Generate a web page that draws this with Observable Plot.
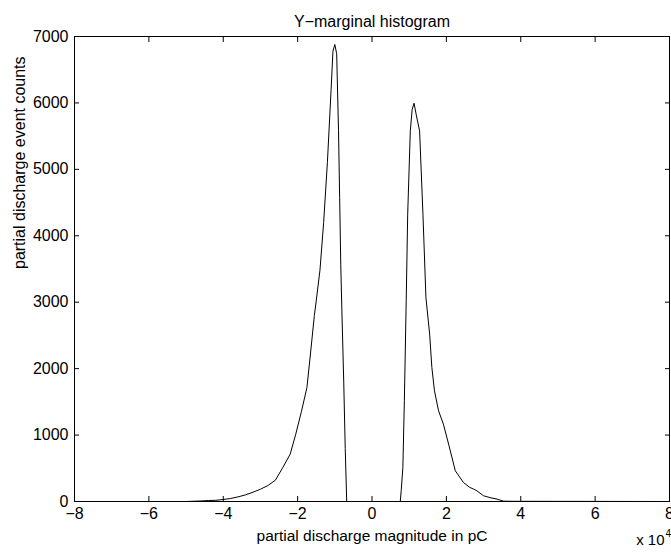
<!DOCTYPE html>
<html>
<head>
<meta charset="utf-8">
<script src="https://cdn.jsdelivr.net/npm/d3@7"></script>
<script src="https://cdn.jsdelivr.net/npm/@observablehq/plot@0.6"></script>
<style>
  body { margin: 0; background: white; }
</style>
</head>
<body>
<div id="chart"></div>
<script>
// magnitude in units of 10^4 pC
const magnitude = [-8, -5, -4.6, -4.4, -4.2, -4.0, -3.8, -3.6, -3.4, -3.2, -3.0, -2.8, -2.6, -2.4, -2.2, -2.05, -1.9, -1.75, -1.65, -1.55, -1.5, -1.4, -1.3, -1.2, -1.1, -1.05, -1.0, -0.95, -0.9, -0.87, -0.84, -0.81, -0.76, -0.72, -0.68,
  0.76, 0.785, 0.83, 0.87, 0.92, 0.96, 1.03, 1.08, 1.13, 1.19, 1.28, 1.37, 1.45, 1.55, 1.61, 1.68, 1.79, 1.92, 2.06, 2.24, 2.46, 2.62, 2.73, 2.82, 3.0, 3.2, 3.36, 3.54, 3.8, 8];
const counts = [0, 0, 8, 15, 18, 30, 45, 70, 100, 140, 185, 240, 320, 510, 713, 1014, 1350, 1716, 2250, 2800, 3020, 3480, 4200, 5100, 6200, 6780, 6880, 6740, 5580, 4575, 3573, 2870, 1800, 800, 0,
  0, 161, 512, 1516, 3020, 4325, 5579, 5900, 5996, 5820, 5579, 4325, 3070, 2519, 2017, 1666, 1365, 1165, 864, 462, 286, 215, 187, 161, 86, 55, 36, 5, 3, 0];
const xTicks = [-8, -6, -4, -2, 0, 2, 4, 6, 8];
const yTicks = [0, 1000, 2000, 3000, 4000, 5000, 6000, 7000];
const title = "Y\u2212marginal histogram";
const xLabel = "partial discharge magnitude in pC";
const yLabel = "partial discharge event counts";
const xExponent = "4";

const data = magnitude.map((m, i) => ({m, c: counts[i]}));
const blank = () => "";

const chart = Plot.plot({
  width: 671,
  height: 553,
  marginLeft: 74,
  marginRight: 2,
  marginTop: 36,
  marginBottom: 52,
  style: {fontFamily: "'Liberation Sans', Arial, Helvetica, sans-serif", fontSize: "16px", color: "black", background: "white"},
  x: {domain: [-8, 8]},
  y: {domain: [0, 7000]},
  marks: [
    Plot.axisX(xTicks, {anchor: "bottom", tickSize: 0, tickPadding: 6, tickFormat: d => d < 0 ? "\u2212" + Math.abs(d) : String(d), fontSize: 16, label: null}),
    Plot.axisX(xTicks, {anchor: "bottom", tickSize: 5, dy: -5, tickFormat: blank, label: null}),
    Plot.axisX(xTicks, {anchor: "top", tickSize: 5, dy: 5, tickFormat: blank, label: null}),
    Plot.axisY(yTicks, {anchor: "left", tickSize: 0, tickPadding: 6, fontSize: 16, label: null, tickFormat: d => String(d)}),
    Plot.axisY(yTicks, {anchor: "left", tickSize: 5, dx: 5, tickFormat: blank, label: null}),
    Plot.axisY(yTicks, {anchor: "right", tickSize: 5, dx: -5, tickFormat: blank, label: null}),
    Plot.line(data, {x: "m", y: "c", stroke: "black", strokeWidth: 1}),
    Plot.frame({stroke: "black", strokeWidth: 1}),
    Plot.text([title], {frameAnchor: "top", dy: -21, fontSize: 16}),
    Plot.text([xLabel], {frameAnchor: "bottom", dy: 39, fontSize: 15.5}),
    Plot.text([yLabel], {frameAnchor: "left", dx: -55, rotate: -90, fontSize: 16}),
    Plot.text(["x 10"], {frameAnchor: "bottom-right", dx: -5, dy: 43, textAnchor: "end", fontSize: 15}),
    Plot.text([xExponent], {frameAnchor: "bottom-right", dx: -4, dy: 35, textAnchor: "start", fontSize: 10})
  ]
});
document.getElementById("chart").appendChild(chart);
</script>
</body>
</html>
